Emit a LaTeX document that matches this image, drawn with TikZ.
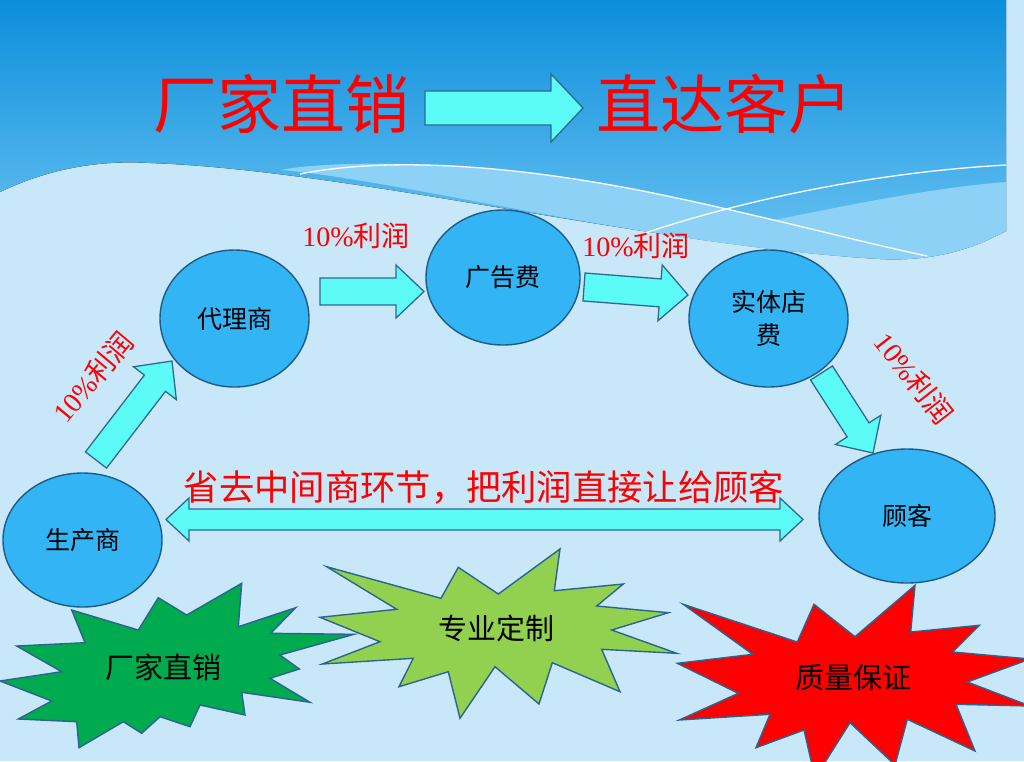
\documentclass[tikz,border=0pt]{standalone}
\usepackage{fontspec}
\setmainfont{Noto Sans CJK SC}
\newfontfamily\tnr{Liberation Serif}
\usetikzlibrary{shapes.geometric,calc}
\definecolor{pale}{HTML}{C8E7F9}
\definecolor{hdrtop}{HTML}{0A8DDB}
\definecolor{hdrbot}{HTML}{6CC4F2}
\definecolor{band}{HTML}{8ED1F7}
\definecolor{ellfill}{HTML}{33B4F4}
\definecolor{ellline}{HTML}{1E5C86}
\definecolor{cyanfill}{HTML}{5CFBF8}
\definecolor{arrline}{HTML}{2F6A8C}
\definecolor{starline}{HTML}{2C6390}
\definecolor{stargreen}{HTML}{00AA4F}
\definecolor{starlime}{HTML}{92D050}
\definecolor{starred}{HTML}{FF0000}
\newcommand\blockarrow[6]{%
  \coordinate (#1n) at ($(#3)!#6!(#2)$);
  \draw[barrow] ($(#2)!#4!90:(#3)$) -- ($(#1n)!#4!90:(#3)$) -- ($(#1n)!#5!90:(#3)$) -- (#3) -- ($(#1n)!#5!-90:(#3)$) -- ($(#1n)!#4!-90:(#3)$) -- ($(#2)!#4!-90:(#3)$) -- cycle;}
\begin{document}
\begin{tikzpicture}[x=1pt,y=-1pt,
  ell/.style={ellipse,draw=ellline,fill=ellfill,line width=1.4pt,inner sep=0pt,font=\fontsize{25}{33}\selectfont,align=center},
  barrow/.style={draw=arrline,fill=cyanfill,line width=1.3pt,line join=miter},
  star/.style={draw=starline,line width=1.4pt,line join=miter},
  startext/.style={font=\fontsize{29}{34}\selectfont,text=black},
  profit/.style={text=red,font=\fontsize{28}{32}\selectfont,inner sep=0pt},
  whiteline/.style={draw=white,line width=1.3pt}]
\useasboundingbox (0,0) rectangle (1024,761);
\clip (0,0) rectangle (1024,761);
% background
\fill[pale] (0,0) rectangle (1024,761);
\fill[top color=hdrtop,bottom color=hdrbot] (0,0) -- (1000,0) arc[start angle=90,end angle=0,radius=6] -- (1006,231)
  .. controls (980,245) and (940,262) .. (880,259)
  .. controls (650,245) and (350,170) .. (150,163)
  .. controls (100,160) and (50,168) .. (0,192) -- cycle;
\fill[band] (281,170) .. controls (330,160) and (480,158) .. (653,193)
  .. controls (700,203) and (740,212) .. (774,220)
  .. controls (850,205) and (930,188) .. (1006,182) -- (1006,231)
  .. controls (980,245) and (940,262) .. (880,259)
  .. controls (650,245) and (400,180) .. (281,170) -- cycle;
\draw[whiteline] (300,174) .. controls (380,158) and (500,162) .. (653,193) .. controls (760,215) and (860,242) .. (927,256);
\draw[whiteline] (645,233) .. controls (750,198) and (880,172) .. (1006,165);
% title
\node[text=red,font=\fontsize{64}{70}\selectfont,inner sep=0pt] (t1) at (281.5,104) {厂家直销};
\node[text=red,font=\fontsize{64}{70}\selectfont,inner sep=0pt] (t2) at (724,104) {直达客户};
\draw[barrow] (425,91) -- (551,91) -- (551,74) -- (583,108) -- (551,142) -- (551,125) -- (425,125) -- cycle;
% stars
\draw[star,fill=stargreen] (0,681) -- (61.7,671.7) -- (16.7,646) -- (85,642.7) -- (71.7,610) -- (138.3,630) -- (158.3,597.7) -- (186.7,615) -- (241.7,583.3) -- (238.3,626.7) -- (295.7,607.7) -- (270.7,633.3) -- (354,634.3) -- (280,655) -- (299.3,669) -- (270,678.3) -- (310,702.3) -- (241.7,692.3) -- (245,715) -- (200,705) -- (190,726.7) -- (160,716.7) -- (141.7,733.3) -- (123.3,721.7) -- (79,747.7) -- (76.7,721.7) -- (18.3,719) -- (51.7,701) -- cycle;
\draw[star,fill=starlime] (326.7,566.7) -- (441,598.3) -- (458.3,567.3) -- (498.3,594) -- (560,549) -- (554.3,590.7) -- (623.3,584) -- (596.7,606) -- (668.3,612.7) -- (611.7,630) -- (676.7,653.3) -- (601.7,649.3) -- (620,691.7) -- (552.3,662.7) -- (539,704) -- (495,666.7) -- (460,718.3) -- (448.3,671.7) -- (399,686.7) -- (413.3,658.3) -- (322.3,664) -- (380,641.7) -- (320,617.3) -- (396.7,609.3) -- cycle;
\draw[star,fill=starred] (683.3,604.3) -- (797.3,642) -- (814,604.3) -- (855,636.7) -- (915,585.3) -- (910.7,632) -- (979.3,625.3) -- (952.7,652) -- (1030,659) -- (967.3,682) -- (1030,706) -- (956,704.3) -- (975,751) -- (907.3,719.3) -- (895,765) -- (850,722.7) -- (815,778) -- (804,730) -- (756,747.7) -- (770,714.3) -- (679.3,720) -- (738.3,693.3) -- (677.3,663.3) -- (752.7,654.3) -- cycle;
\node[startext] (s1) at (163,667.7) {厂家直销};
\node[startext] (s2) at (496.7,628.3) {专业定制};
\node[startext] (s3) at (853.3,677.7) {质量保证};
% ellipses
\node[ell,minimum width=149pt,minimum height=137pt] (dls) at (234.5,318.5) {代理商};
\node[ell,minimum width=154pt,minimum height=135pt] (ggf) at (503,277.5) {广告费};
\node[ell,minimum width=159pt,minimum height=137pt] (std) at (768.5,318.5) {实体店\\费};
\node[ell,minimum width=159pt,minimum height=134pt] (scs) at (82.5,540) {生产商};
\node[ell,minimum width=176pt,minimum height=134pt] (gk) at (907,516) {顾客};
% block arrows
\coordinate (a1s) at (96,460);   \coordinate (a1e) at (172,361);
\coordinate (a2s) at (320,291.5); \coordinate (a2e) at (424,291.5);
\coordinate (a3s) at (584,287);  \coordinate (a3e) at (688,295);
\coordinate (a4s) at (821.5,373); \coordinate (a4e) at (873,453);
\blockarrow{a1}{a1s}{a1e}{13.3pt}{27pt}{28pt}
\blockarrow{a2}{a2s}{a2e}{13.5pt}{26.5pt}{28pt}
\blockarrow{a3}{a3s}{a3e}{14pt}{28pt}{28pt}
\blockarrow{a4}{a4s}{a4e}{13pt}{27pt}{27.5pt}
% double arrow
\draw[barrow] (166,519.5) -- (189,498) -- (189,509) -- (780,509) -- (780,498) -- (803,519.5) -- (780,541) -- (780,530) -- (189,530) -- (189,541) -- cycle;
% labels
\node[profit] (p1) at (356,236) {{\tnr 10\%}利润};
\node[profit] (p2) at (636,246) {{\tnr 10\%}利润};
\node[profit,rotate=50] (p3) at (93,377) {{\tnr 10\%}利润};
\node[profit,rotate=-52] (p4) at (914,378) {{\tnr 10\%}利润};
\node[text=red,font=\fontsize{35.3}{38}\selectfont,inner sep=0pt] (msg) at (484,487.5) {省去中间商环节，把利润直接让给顾客};
\end{tikzpicture}
\end{document}
